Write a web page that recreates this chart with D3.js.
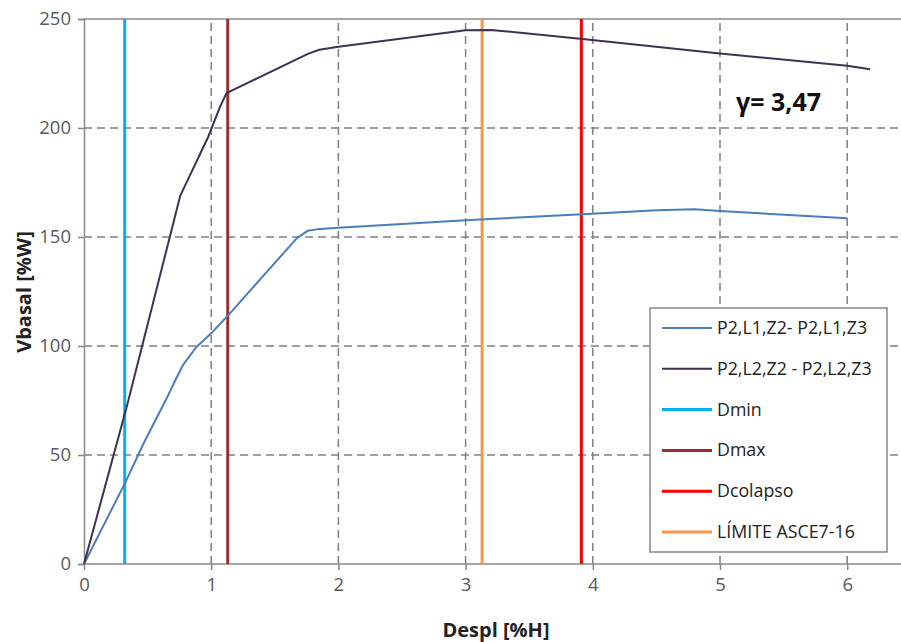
<!DOCTYPE html>
<html><head><meta charset="utf-8">
<script src="https://cdn.jsdelivr.net/npm/d3@7"></script>
<style>body{margin:0;background:#fff}svg{display:block}</style>
</head><body>
<script>
// Data
const serieL1x = [0, 0.33, 0.47, 0.65, 0.72, 0.78, 0.886, 1.0, 1.135, 1.672, 1.76, 1.83, 2.0, 3.0, 3.92, 4.5, 4.8, 5.0, 6.0];
const serieL1y = [0, 38, 55.5, 76, 84.5, 91.5, 99.7, 105.8, 114.2, 149.4, 152.9, 153.5, 154.2, 157.7, 160.4, 162.3, 162.7, 161.9, 158.6];
const serieL2x = [0, 0.34, 0.757, 0.977, 1.07, 1.12, 1.76, 1.85, 2.0, 3.0, 3.2, 3.92, 5.0, 6.0, 6.18];
const serieL2y = [0, 73, 169, 196, 209.8, 216, 234, 235.9, 237.3, 244.8, 245, 240.8, 234.2, 228.6, 227];
const limitNames = ["Dmin", "Dmax", "Dcolapso", "LÍMITE ASCE7-16"];
const limitValues = [0.32, 1.13, 3.91, 3.13];
const seriesNames = ["P2,L1,Z2- P2,L1,Z3", "P2,L2,Z2 - P2,L2,Z3"];
const xTicks = [0, 1, 2, 3, 4, 5, 6];
const yTicks = [0, 50, 100, 150, 200, 250];
const annotation = "γ= 3,47";

const W = 901, H = 642;
const svg = d3.select("body").append("svg").attr("width", W).attr("height", H);
const x = d3.scaleLinear().domain([0, 6.42]).range([84, 84 + 6.42 * 127.2]);
const y = d3.scaleLinear().domain([0, 250]).range([564, 19]);
const font = "'Open Sans', 'Noto Sans', sans-serif";
const gridCol = "#808080";

// grid
const g = svg.append("g");
g.selectAll(".vg").data(xTicks.filter(d => d > 0)).join("line")
  .attr("x1", d => x(d)).attr("x2", d => x(d)).attr("y1", y(0)).attr("y2", y(250))
  .attr("stroke", gridCol).attr("stroke-width", 1.5).attr("stroke-dasharray", "8,5");
g.selectAll(".hg").data(yTicks.filter(d => d > 0 && d < 250)).join("line")
  .attr("x1", x(0)).attr("x2", W).attr("y1", d => y(d)).attr("y2", d => y(d))
  .attr("stroke", gridCol).attr("stroke-width", 1.5).attr("stroke-dasharray", "8,5");
g.append("line").attr("x1", x(0)).attr("x2", W).attr("y1", y(250)).attr("y2", y(250))
  .attr("stroke", "#888").attr("stroke-width", 1.5);

// axes
const xAxis = svg.append("g").attr("transform", `translate(0,${y(0)})`)
  .call(d3.axisBottom(x).tickValues(xTicks).tickSize(6).tickPadding(8).tickFormat(d3.format("d")));
xAxis.select(".domain").attr("d", `M${x(0)},0H${W}`);
const yAxis = svg.append("g").attr("transform", `translate(${x(0)},0)`)
  .call(d3.axisLeft(y).tickValues(yTicks).tickSize(6).tickPadding(7));
[xAxis, yAxis].forEach(a => {
  a.selectAll(".domain").attr("stroke", "#888").attr("stroke-width", 1.5);
  a.selectAll(".tick line").attr("stroke", "#888").attr("stroke-width", 1.5);
  a.selectAll("text").attr("fill", "#595959").style("font-family", font).style("font-size", "18.5px");
});

// vertical limit lines
const limitColors = ["#00b0f0", "#9b2d30", "#ff0000", "#f79646"];
svg.selectAll(".lim").data(limitValues).join("line")
  .attr("x1", d => x(d)).attr("x2", d => x(d)).attr("y1", y(0)).attr("y2", y(250))
  .attr("stroke", (d, i) => limitColors[i]).attr("stroke-width", 3);

// series
const line = d3.line().x(d => x(d[0])).y(d => y(d[1]));
const s1 = serieL1x.map((v, i) => [v, serieL1y[i]]);
const s2 = serieL2x.map((v, i) => [v, serieL2y[i]]);
const seriesColors = ["#4a7ebb", "#403152"];
svg.append("path").datum(s1).attr("d", line).attr("fill", "none").attr("stroke", seriesColors[0]).attr("stroke-width", 2).attr("stroke-linejoin", "round");
svg.append("path").datum(s2).attr("d", line).attr("fill", "none").attr("stroke", seriesColors[1]).attr("stroke-width", 2).attr("stroke-linejoin", "round");

// annotation
svg.append("text").attr("x", 736).attr("y", 111).text(annotation)
  .style("font-family", font).style("font-weight", "bold").style("font-size", "25px").attr("fill", "#111");

// axis titles
svg.append("text").attr("x", 496).attr("y", 637).attr("text-anchor", "middle").text("Despl [%H]")
  .style("font-family", font).style("font-weight", "bold").style("font-size", "20px").attr("fill", "#222");
svg.append("text").attr("transform", "translate(31,292) rotate(-90)").attr("text-anchor", "middle").text("Vbasal [%W]")
  .style("font-family", font).style("font-weight", "bold").style("font-size", "20px").attr("fill", "#222");

// legend
const legNames = seriesNames.concat(limitNames.slice(0, 2), ["Dcolapso", "LÍMITE ASCE7-16"]);
const legColors = seriesColors.concat(limitColors);
const legWidths = [2, 2, 3, 3, 3, 3];
const lg = svg.append("g");
lg.append("rect").attr("x", 650).attr("y", 308).attr("width", 237).attr("height", 244)
  .attr("fill", "#fff").attr("stroke", "#888").attr("stroke-width", 1.5);
const ly = d3.scalePoint().domain(d3.range(6)).range([328, 532]);
const items = lg.selectAll(".it").data(legNames).join("g").attr("transform", (d, i) => `translate(0,${ly(i)})`);
items.append("line").attr("x1", 662).attr("x2", 712).attr("stroke", (d, i) => legColors[i]).attr("stroke-width", (d, i) => legWidths[i]);
items.append("text").attr("x", 717).attr("y", 6).text(d => d)
  .style("font-family", font).style("font-size", "17.8px").attr("fill", "#222");
</script>
</body></html>
